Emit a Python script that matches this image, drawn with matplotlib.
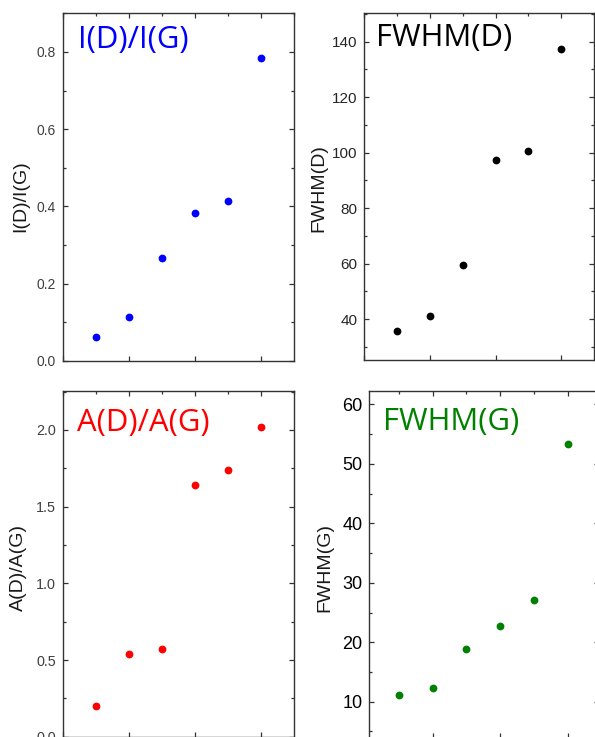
import matplotlib
matplotlib.use("Agg")
import matplotlib.pyplot as plt
from matplotlib.ticker import MultipleLocator

# data
x = [1, 2, 3, 4, 5, 6]
id_ig = [0.062, 0.112, 0.266, 0.383, 0.415, 0.785]
fwhm_d = [35.9, 41.0, 59.5, 97.3, 100.7, 137.3]
ad_ag = [0.200, 0.537, 0.574, 1.644, 1.737, 2.018]
fwhm_g = [11.1, 12.3, 18.9, 22.8, 27.1, 53.4]

W, H = 595, 737
fig = plt.figure(figsize=(W / 100, H / 100), dpi=100)
plt.rcParams['font.family'] = ['Liberation Sans', 'DejaVu Sans']


def box(left, right, top, bottom):
    # pixel box -> figure fraction
    return [left / W, (H - bottom) / H, (right - left) / W, (bottom - top) / H]


panels = [
    # values, colour, title, label, box, xlim, ylim, major, minor, ticksize, tickcolor, text pos, label pos
    (id_ig, '#0000ff', 'I(D)/I(G)', 'I(D)/I(G)', box(63, 294, 13.3, 360.7),
     (0, 7), (0, 0.9), 0.2, 0.1, 10, '#404040', (0.065, 0.899), (-0.147, 0.474)),
    (fwhm_d, '#000000', 'FWHM(D)', 'FWHM(D)', box(364.3, 594, 13.3, 360),
     (0, 7), (25.3, 150.2), 20, 10, 11, '#262626', (0.051, 0.907), (-0.162, 0.495)),
    (ad_ag, '#ff0000', 'A(D)/A(G)', 'A(D)/A(G)', box(63, 294, 390.7, 736.7),
     (0, 7), (0, 2.256), 0.5, 0.25, 10.4, '#404040', (0.062, 0.884), (-0.156, 0.489)),
    (fwhm_g, '#008000', 'FWHM(G)', 'FWHM(G)', box(369.3, 599, 390.7, 738),
     (0.14, 6.9), (3.9, 62.3), 10, 5, 13, '#000000', (0.058, 0.887), (-0.158, 0.491)),
]

for vals, col, title, lab, pos, xl, yl, major, minor, tsize, tcol, tpos, lpos in panels:
    ax = fig.add_axes(pos)
    ax.plot(x, vals, 'o', color=col, markersize=5.6, markeredgewidth=0)
    ax.set_xlim(*xl)
    ax.set_ylim(*yl)

    ax.xaxis.set_major_locator(MultipleLocator(2))
    ax.xaxis.set_minor_locator(MultipleLocator(1))
    ax.yaxis.set_major_locator(MultipleLocator(major))
    ax.yaxis.set_minor_locator(MultipleLocator(minor))

    ax.tick_params(axis='both', which='both', direction='in', color='#333333')
    ax.tick_params(axis='both', which='major', length=3.8, width=0.9)
    ax.tick_params(axis='both', which='minor', length=2.2, width=0.9)
    ax.tick_params(axis='x', which='major', top=True, bottom=True, labelbottom=False)
    ax.tick_params(axis='x', which='minor', top=True, bottom=False)
    ax.tick_params(axis='y', which='both', left=True, right=True)
    ax.tick_params(axis='y', which='major', labelsize=tsize, labelcolor=tcol, pad=5)

    for s in ax.spines.values():
        s.set_linewidth(1.0)
        s.set_color('#333333')

    ax.set_ylabel(lab, fontsize=14, color='#1a1a1a')
    ax.yaxis.set_label_coords(*lpos)

    ax.text(tpos[0], tpos[1], title, transform=ax.transAxes, color=col,
            fontsize=22.3, family=['Open Sans', 'DejaVu Sans'],
            ha='left', va='baseline')

fig.savefig('out.png', dpi=100)
